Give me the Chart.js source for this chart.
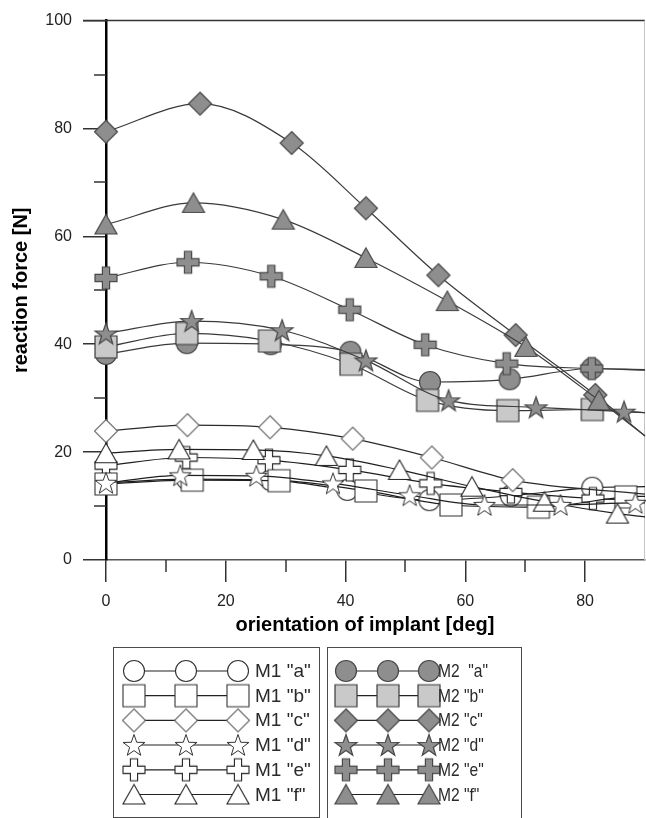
<!DOCTYPE html>
<html>
<head>
<meta charset="utf-8">
<script src="https://cdn.jsdelivr.net/npm/chart.js@4"></script>
<style>
  body { margin: 0; background: #fff; }
  #wrap { position: relative; width: 646px; height: 818px; overflow: hidden; font-family: "Liberation Sans", Arial, sans-serif; }
  #chart { position: absolute; left: 0; top: 0; }
  #xtitle { position: absolute; left: 165px; width: 400px; top: 612px; text-align: center; font-size: 20px; font-weight: bold; line-height: 24px; color: #000; }
  .box { position: absolute; border: 1px solid #4a4a4a; box-sizing: border-box; }
  .box canvas { position: absolute; left: -1px; top: -1px; }
  .lbl { position: absolute; font-size: 19px; color: #2a2a2a; white-space: pre; line-height: 1; transform-origin: 0 50%; }
</style>
</head>
<body>
<div id="wrap">
  <canvas id="chart" width="646" height="650"></canvas>
  <div id="xtitle"></div>
  <div class="box" id="leg1" style="left:113px;top:647px;width:207px;height:171px;"></div>
  <div class="box" id="leg2" style="left:327px;top:647px;width:195px;height:180px;"></div>
</div>
<script>
// --- data (last value of each series = curve end, no marker) ---
const xTitle = 'orientation of implant [deg]';
const yTitle = 'reaction force [N]';
const xTickStep = 20, yTickStep = 20;
const xMinor = [10, 30, 50, 70];
const yMinor = [10, 30, 50, 70, 90];

const m1aX = [0, 13.5, 27.5, 40.3, 54, 67.6, 81.2, 90];
const m1aY = [14.3, 15.0, 14.8, 13.0, 11.1, 11.9, 13.4, 13.6];
const m1bX = [0, 14.4, 28.9, 43.4, 57.6, 72.2, 86.8, 90];
const m1bY = [14.1, 14.8, 14.7, 12.8, 10.2, 9.8, 11.7, 11.8];
const m1cX = [0, 13.6, 27.4, 41.2, 54.4, 67.9, 90];
const m1cY = [23.9, 25.0, 24.6, 22.5, 19.0, 14.8, 12.2];
const m1dX = [0, 12.4, 25.1, 37.9, 50.7, 63.2, 75.9, 88.4, 90];
const m1dY = [14.3, 15.7, 15.6, 14.2, 12.0, 10.2, 10.2, 10.6, 10.6];
const m1eX = [0, 13.4, 27.2, 40.7, 54.2, 67.6, 81.3, 90];
const m1eY = [17.5, 19.0, 18.5, 16.7, 14.2, 12.6, 11.4, 11.0];
const m1fX = [0, 12.2, 24.6, 36.8, 49, 61.1, 73.2, 85.4, 90];
const m1fY = [19.8, 20.5, 20.4, 19.3, 16.7, 13.6, 10.8, 8.6, 8.0];

const m2aX = [0, 13.5, 27.5, 40.8, 54.1, 67.4, 81.1, 90];
const m2aY = [38.2, 40.2, 40.0, 38.6, 33.0, 33.5, 35.5, 35.3];
const m2bX = [0, 13.5, 27.3, 40.9, 53.7, 67.1, 81.2, 90];
const m2bY = [39.5, 42.0, 40.6, 36.3, 29.6, 27.7, 27.9, 27.3];
const m2cX = [0, 15.7, 31, 43.4, 55.5, 68.4, 81.7, 90];
const m2cY = [79.4, 84.6, 77.3, 65.2, 52.8, 41.7, 30.6, 23.0];
const m2dX = [0, 14.3, 29.4, 43.4, 57.2, 71.8, 86.5, 90];
const m2dY = [42.0, 44.3, 42.6, 37.0, 29.6, 28.3, 27.5, 27.3];
const m2eX = [0, 13.7, 27.6, 40.7, 53.3, 66.9, 81.1, 90];
const m2eY = [52.3, 55.2, 52.6, 46.4, 39.9, 36.4, 35.5, 35.2];
const m2fX = [0, 14.6, 29.6, 43.4, 57, 70.1, 82.3, 90];
const m2fY = [62.2, 66.2, 63.1, 56.0, 48.0, 39.5, 29.6, 23.0];

const FONT = '"Liberation Sans", Arial, sans-serif';

// --- marker pictures ---
function makeMarker(shape, fill, stroke, lw) {
    const s = 28;
    const c = document.createElement('canvas');
    c.width = s; c.height = s;
    const g = c.getContext('2d');
    g.translate(s / 2, s / 2);
    g.beginPath();
    if (shape === 'circle') {
        g.arc(0, 0, 10.5, 0, Math.PI * 2);
    } else if (shape === 'square') {
        g.rect(-11, -11, 22, 22);
    } else if (shape === 'diamond') {
        g.moveTo(0, -11.5); g.lineTo(11.5, 0); g.lineTo(0, 11.5); g.lineTo(-11.5, 0); g.closePath();
    } else if (shape === 'triangle') {
        g.moveTo(0, -10); g.lineTo(11, 9.5); g.lineTo(-11, 9.5); g.closePath();
    } else if (shape === 'star') {
        for (let i = 0; i < 10; i++) {
            const r = i % 2 ? 4.6 : 11.5;
            const a = -Math.PI / 2 + i * Math.PI / 5;
            const px = Math.cos(a) * r, py = Math.sin(a) * r + 1;
            i ? g.lineTo(px, py) : g.moveTo(px, py);
        }
        g.closePath();
    } else if (shape === 'plus') {
        const a = 11, t = 3.6;
        g.moveTo(-t, -a); g.lineTo(t, -a); g.lineTo(t, -t); g.lineTo(a, -t); g.lineTo(a, t); g.lineTo(t, t);
        g.lineTo(t, a); g.lineTo(-t, a); g.lineTo(-t, t); g.lineTo(-a, t); g.lineTo(-a, -t); g.lineTo(-t, -t);
        g.closePath();
    }
    g.fillStyle = fill; g.fill();
    g.strokeStyle = stroke; g.lineWidth = lw; g.stroke();
    return c;
}

const darkFill = '#8e8e8e', darkEdge = '#474747', lightFill = '#c9c9c9';
const series = [
    // order: lower = drawn on top
    { name: 'M1 "a"', xs: m1aX, ys: m1aY, mk: makeMarker('circle', '#fff', '#333', 1.1), line: '#1e1e1e', order: 11 },
    { name: 'M1 "b"', xs: m1bX, ys: m1bY, mk: makeMarker('square', '#fff', '#333', 1.1), line: '#1e1e1e', order: 9 },
    { name: 'M1 "c"', xs: m1cX, ys: m1cY, mk: makeMarker('diamond', '#fff', '#6a6a6a', 1.1), line: '#2a2a2a', order: 8 },
    { name: 'M1 "d"', xs: m1dX, ys: m1dY, mk: makeMarker('star', '#fff', '#333', 1), line: '#1e1e1e', order: 6 },
    { name: 'M1 "e"', xs: m1eX, ys: m1eY, mk: makeMarker('plus', '#fff', '#222', 1.1), line: '#1e1e1e', order: 10 },
    { name: 'M1 "f"', xs: m1fX, ys: m1fY, mk: makeMarker('triangle', '#fff', '#222', 1.1), line: '#1e1e1e', order: 7 },
    { name: 'M2  "a"', xs: m2aX, ys: m2aY, mk: makeMarker('circle', darkFill, darkEdge, 1.2), line: '#3a3a3a', order: 5 },
    { name: 'M2 "b"', xs: m2bX, ys: m2bY, mk: makeMarker('square', lightFill, '#3a3a3a', 1.2), line: '#3a3a3a', order: 4 },
    { name: 'M2 "c"', xs: m2cX, ys: m2cY, mk: makeMarker('diamond', darkFill, darkEdge, 1.2), line: '#3a3a3a', order: 2 },
    { name: 'M2 "d"', xs: m2dX, ys: m2dY, mk: makeMarker('star', darkFill, darkEdge, 1.2), line: '#3a3a3a', order: 0 },
    { name: 'M2 "e"', xs: m2eX, ys: m2eY, mk: makeMarker('plus', darkFill, darkEdge, 1.2), line: '#3a3a3a', order: 3 },
    { name: 'M2 "f"', xs: m2fX, ys: m2fY, mk: makeMarker('triangle', darkFill, darkEdge, 1.2), line: '#3a3a3a', order: 1 }
];

const datasets = series.map(s => ({
    label: s.name,
    data: s.xs.map((x, i) => ({ x: x, y: s.ys[i] })),
    borderColor: s.line,
    borderWidth: 1.2,
    backgroundColor: s.line,
    pointStyle: s.mk,
    pointRadius: ctx => ctx.dataIndex < s.xs.length - 1 ? 10 : 0,
    cubicInterpolationMode: 'monotone',
    fill: false,
    clip: false,
    order: s.order
}));

// frame lines and minor ticks
const framePlugin = {
    id: 'frame',
    beforeDatasetsDraw(chart) {
        const { ctx, chartArea: a, scales } = chart;
        ctx.save();
        ctx.strokeStyle = '#333';
        ctx.lineWidth = 1.5;
        ctx.beginPath();
        ctx.moveTo(a.left - 23, a.top); ctx.lineTo(a.right, a.top);
        ctx.stroke();
        ctx.strokeStyle = '#c4c4c4';
        ctx.lineWidth = 1;
        ctx.beginPath();
        ctx.moveTo(a.right - 0.5, a.top); ctx.lineTo(a.right - 0.5, a.bottom);
        ctx.stroke();
        ctx.strokeStyle = '#333';
        ctx.lineWidth = 1.5;
        ctx.beginPath();
        xMinor.forEach(v => {
            const px = Math.round(scales.x.getPixelForValue(v));
            ctx.moveTo(px, a.bottom); ctx.lineTo(px, a.bottom + 12);
        });
        yMinor.forEach(v => {
            const py = Math.round(scales.y.getPixelForValue(v));
            ctx.moveTo(a.left - 12, py); ctx.lineTo(a.left, py);
        });
        ctx.stroke();
        ctx.restore();
    }
};

new Chart(document.getElementById('chart'), {
    type: 'line',
    data: { datasets: datasets },
    options: {
        responsive: false,
        animation: false,
        events: [],
        layout: { autoPadding: false, padding: { top: 19, right: 1, left: 0, bottom: 0 } },
        plugins: { legend: { display: false }, tooltip: { enabled: false } },
        scales: {
            x: {
                type: 'linear', min: 0, max: 90,
                afterFit: s => { s.height = 90; },
                border: { color: '#555', width: 1.5 },
                grid: { drawOnChartArea: false, tickLength: 22, color: '#333', lineWidth: 1.5 },
                ticks: { stepSize: xTickStep, includeBounds: false, padding: 10, color: '#222', font: { family: FONT, size: 16 } }
            },
            y: {
                type: 'linear', min: 0, max: 100,
                afterFit: s => { s.width = 106; },
                border: { color: '#000', width: 2.5 },
                grid: { drawOnChartArea: false, tickLength: 23, color: '#333', lineWidth: 1.5 },
                ticks: { stepSize: yTickStep, padding: 11, color: '#222', font: { family: FONT, size: 16 } },
                title: { display: true, text: yTitle, color: '#000', font: { family: FONT, size: 20, weight: 'bold' }, padding: { top: 9, bottom: 0 } }
            }
        }
    },
    plugins: [framePlugin]
});

document.getElementById('xtitle').textContent = xTitle;

// --- legend boxes ---
const rowY = [23, 47.7, 72.4, 97, 121.8, 146.5];
function buildLegend(boxId, list, markX, textX, squeeze) {
    const box = document.getElementById(boxId);
    const cv = document.createElement('canvas');
    cv.width = box.offsetWidth; cv.height = box.offsetHeight;
    box.appendChild(cv);
    const g = cv.getContext('2d');
    list.forEach((s, i) => {
        const y = rowY[i] + 1;
        g.strokeStyle = '#222';
        g.lineWidth = 1.2;
        g.beginPath();
        g.moveTo(markX[0] + 1, y); g.lineTo(markX[2] + 1, y);
        g.stroke();
        markX.forEach(x => g.drawImage(s.mk, x + 1 - s.mk.width / 2, y - s.mk.height / 2));
        const t = document.createElement('span');
        t.className = 'lbl';
        t.textContent = s.name;
        t.style.left = textX + 'px';
        t.style.top = (rowY[i] - 10) + 'px';
        if (squeeze) t.style.transform = 'scaleX(' + squeeze + ')';
        box.appendChild(t);
    });
}
buildLegend('leg1', series.slice(0, 6), [20, 72, 124], 141, 0);
buildLegend('leg2', series.slice(6), [18, 60, 101], 110, 0.82);
</script>
</body>
</html>
